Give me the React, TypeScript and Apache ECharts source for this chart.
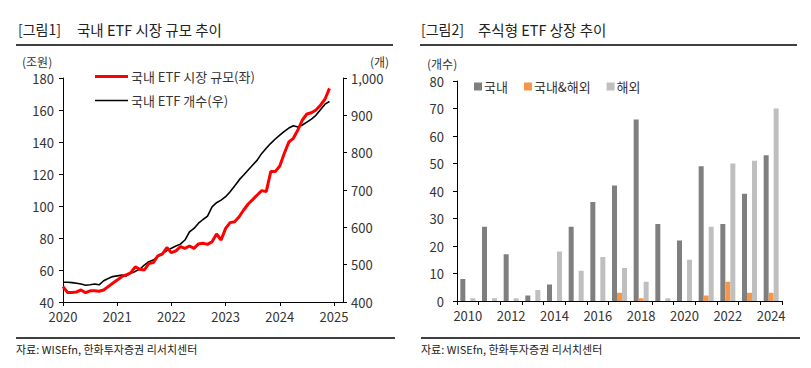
import React, { useEffect, useRef } from 'react';
import * as echarts from 'echarts';

// Chart 1: monthly, Jan 2020 .. Dec 2024
const startYear = 2020;
const marketSize = [
  49.6, 46, 46, 46.3, 47.5, 45.8, 47, 47, 46.7, 47.5, 49.6, 51.7,
  53.7, 55.8, 56.9, 58.3, 62, 60.4, 60, 64, 64.6, 68.8, 70, 74,
  70.8, 72, 74.6, 73.5, 75, 73.5, 76.3, 76.7, 76, 77.7, 82.5, 78.75,
  86, 89.6, 90.2, 93.3, 97.5, 101.25, 104, 106.9, 109.6, 109, 121.5, 121.5,
  125, 133, 140, 142.3, 147.5, 153.75, 157.5, 158.3, 160, 163, 166.7, 173.5,
];
const etfCount = [
  453, 453, 452, 450, 448, 445, 446, 448, 446, 457, 463, 468,
  470, 472, 470, 477, 482, 487.5, 499, 508, 512.5, 523, 530, 537.5,
  544, 550, 555, 566, 588, 597, 611, 621, 630, 655, 666, 673,
  682, 695.5, 711, 727, 740, 753.6, 767, 780, 798, 811.6, 825, 836.6,
  847, 857, 866, 872, 869, 874, 882, 890, 900, 915, 930, 937,
];

// Chart 2: yearly listings
const listYears = ['2010', '2011', '2012', '2013', '2014', '2015', '2016', '2017', '2018', '2019', '2020', '2021', '2022', '2023', '2024'];
const domestic = [8, 27, 17, 2, 6, 27, 36, 42, 66, 28, 22, 49, 28, 39, 53];
const mixed = [0, 0, 0, 0, 0, 0, 0, 3, 1, 0, 0, 2, 7, 3, 3];
const overseas = [1, 1, 1, 4, 18, 11, 16, 12, 7, 1, 15, 27, 50, 51, 70];

const FONT = '"Noto Sans CJK KR", "Noto Sans", sans-serif';
const TXT = '#333';

export default function App() {
  const ref = useRef<HTMLDivElement>(null);
  useEffect(() => {
    if (!ref.current) return;
    const chart = echarts.init(ref.current, null, { renderer: 'svg' });
    const lineX = (i: number) => startYear + i / 12;
    const axisLabel = { color: TXT, fontSize: 13, fontFamily: FONT };
    const axisLine = { show: true, lineStyle: { color: '#000', width: 1 } };
    const axisTick = { show: true, length: 4, lineStyle: { color: '#000' } };
    const legendText = { color: TXT, fontSize: 13, fontFamily: FONT, padding: [0, 0, 0, -2] };

    chart.setOption({
      animation: false,
      textStyle: { fontFamily: FONT },
      grid: [
        { left: 63, top: 78, width: 280, height: 224, containLabel: false },
        { left: 457, top: 81, width: 325, height: 220, containLabel: false },
      ],
      legend: [
        {
          left: 90,
          top: 65,
          itemWidth: 33,
          itemHeight: 3,
          icon: 'rect',
          textStyle: legendText,
          data: ['국내 ETF 시장 규모(좌)'],
        },
        {
          left: 90,
          top: 89,
          itemWidth: 33,
          itemHeight: 1.6,
          icon: 'rect',
          textStyle: legendText,
          data: ['국내 ETF 개수(우)'],
        },
        {
          orient: 'horizontal',
          left: 469,
          top: 75,
          itemWidth: 8,
          itemHeight: 8,
          itemGap: 16,
          icon: 'rect',
          textStyle: { color: TXT, fontSize: 13, fontFamily: FONT, padding: [0, 0, 0, -3] },
          data: ['국내', '국내&해외', '해외'],
        },
      ],
      xAxis: [
        {
          type: 'value',
          gridIndex: 0,
          min: 2020,
          max: 2025.166,
          interval: 1,
          splitLine: { show: false },
          axisLine,
          axisTick,
          axisLabel: {
            ...axisLabel,
            margin: 8,
            showMaxLabel: false,
            formatter: (v: number) => (Math.abs(v - Math.round(v)) < 1e-6 ? String(Math.round(v)) : ''),
          },
        },
        {
          type: 'category',
          gridIndex: 1,
          data: listYears,
          axisLine,
          axisTick: { ...axisTick, interval: 0 },
          axisLabel: { ...axisLabel, interval: 1, margin: 8 },
        },
      ],
      yAxis: [
        {
          type: 'value',
          gridIndex: 0,
          min: 40,
          max: 180,
          interval: 20,
          splitLine: { show: false },
          axisLine,
          axisTick,
          axisLabel: { ...axisLabel, margin: 9 },
        },
        {
          type: 'value',
          gridIndex: 0,
          position: 'right',
          min: 400,
          max: 1000,
          interval: 100,
          splitLine: { show: false },
          axisLine,
          axisTick,
          axisLabel: {
            ...axisLabel,
            margin: 8,
            formatter: (v: number) => v.toLocaleString('en-US'),
          },
        },
        {
          type: 'value',
          gridIndex: 1,
          min: 0,
          max: 80,
          interval: 10,
          splitLine: { show: false },
          axisLine,
          axisTick,
          axisLabel: { ...axisLabel, margin: 13 },
        },
      ],
      series: [
        {
          name: '국내 ETF 개수(우)',
          type: 'line',
          xAxisIndex: 0,
          yAxisIndex: 1,
          symbol: 'none',
          lineStyle: { color: '#000', width: 1.6 },
          itemStyle: { color: '#000' },
          data: etfCount.map((v, i) => [lineX(i), v]),
          z: 2,
        },
        {
          name: '국내 ETF 시장 규모(좌)',
          type: 'line',
          xAxisIndex: 0,
          yAxisIndex: 0,
          symbol: 'none',
          lineStyle: { color: '#ff0000', width: 3 },
          itemStyle: { color: '#ff0000' },
          data: marketSize.map((v, i) => [lineX(i), v]),
          z: 3,
        },
        {
          name: '국내',
          type: 'bar',
          xAxisIndex: 1,
          yAxisIndex: 2,
          barWidth: 5,
          barGap: '0%',
          itemStyle: { color: '#7f7f7f' },
          data: domestic,
        },
        {
          name: '국내&해외',
          type: 'bar',
          xAxisIndex: 1,
          yAxisIndex: 2,
          barWidth: 5,
          barGap: '0%',
          itemStyle: { color: '#f79646' },
          data: mixed,
        },
        {
          name: '해외',
          type: 'bar',
          xAxisIndex: 1,
          yAxisIndex: 2,
          barWidth: 5,
          barGap: '0%',
          itemStyle: { color: '#bfbfbf' },
          data: overseas,
        },
      ],
      graphic: [
        { type: 'text', left: 18, top: 22, style: { text: '[그림1]', fontSize: 14, fill: '#222', fontFamily: FONT } },
        { type: 'text', left: 77, top: 22, style: { text: '국내 ETF 시장 규모 추이', fontSize: 14.5, fill: '#222', fontFamily: FONT } },
        { type: 'line', shape: { x1: 16, y1: 45, x2: 393, y2: 45 }, style: { stroke: '#000', lineWidth: 1.5 } },
        { type: 'text', left: 421, top: 22, style: { text: '[그림2]', fontSize: 14, fill: '#222', fontFamily: FONT } },
        { type: 'text', left: 478, top: 22, style: { text: '주식형 ETF 상장 추이', fontSize: 14.5, fill: '#222', fontFamily: FONT } },
        { type: 'line', shape: { x1: 420, y1: 45, x2: 797, y2: 45 }, style: { stroke: '#000', lineWidth: 1.5 } },
        { type: 'text', left: 22, top: 55, style: { text: '(조원)', fontSize: 12, fill: TXT, fontFamily: FONT } },
        { type: 'text', left: 370, top: 55, style: { text: '(개)', fontSize: 12, fill: TXT, fontFamily: FONT } },
        { type: 'text', left: 427, top: 57, style: { text: '(개수)', fontSize: 12, fill: TXT, fontFamily: FONT } },
        { type: 'line', shape: { x1: 16, y1: 338, x2: 395, y2: 338 }, style: { stroke: '#000', lineWidth: 1.5 } },
        { type: 'line', shape: { x1: 421, y1: 338, x2: 800, y2: 338 }, style: { stroke: '#000', lineWidth: 1.5 } },
        { type: 'text', left: 16, top: 343, style: { text: '자료: WISEfn, 한화투자증권 리서치센터', fontSize: 11, fill: '#222', fontFamily: FONT } },
        { type: 'text', left: 421, top: 343, style: { text: '자료: WISEfn, 한화투자증권 리서치센터', fontSize: 11, fill: '#222', fontFamily: FONT } },
      ],
    });
    return () => chart.dispose();
  }, []);
  return (
    <div
      ref={ref}
      style={{ position: 'fixed', left: 0, top: 0, width: 811, height: 368, background: '#fff' }}
    />
  );
}
